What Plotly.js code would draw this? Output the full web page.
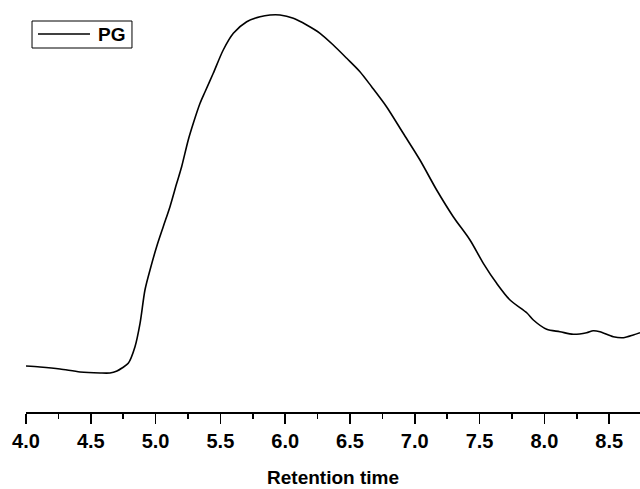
<!DOCTYPE html>
<html>
<head>
<meta charset="utf-8">
<script src="https://cdn.plot.ly/plotly-3.0.1.min.js"></script>
<style>html,body{margin:0;padding:0;background:#fff;}#chart{width:640px;height:489px;}</style>
</head>
<body>
<div id="chart"></div>
<script>
// Retention time (min)
const retentionTime = [4.000, 4.108, 4.262, 4.417, 4.571, 4.648, 4.702, 4.741, 4.789, 4.841, 4.880, 4.918, 4.957, 5.008, 5.059, 5.111, 5.163, 5.201, 5.252, 5.291, 5.343, 5.381, 5.445, 5.522, 5.600, 5.703, 5.806, 5.883, 5.960, 6.063, 6.166, 6.269, 6.371, 6.475, 6.577, 6.667, 6.782, 6.911, 7.040, 7.169, 7.297, 7.426, 7.529, 7.632, 7.735, 7.866, 7.915, 8.018, 8.120, 8.223, 8.326, 8.377, 8.429, 8.532, 8.610, 8.686, 8.738];
// Detector signal (arbitrary units)
const signalPG = [46, 45, 43, 40, 39, 39, 41, 44, 48.7, 65.3, 88.7, 122, 142, 165.3, 185.3, 205.3, 228.7, 245.3, 272, 288.7, 308.7, 320, 338.7, 362, 378.7, 390.3, 395.3, 397, 397, 393.7, 387, 378.7, 367, 353.7, 340.3, 325.3, 305.3, 278.7, 252, 222, 195.3, 172, 148.7, 128.7, 112, 99, 92, 82.7, 80.3, 77.7, 79.3, 81.3, 80.3, 75.3, 74.3, 77, 79.3];
const seriesName = 'PG';
const xTickVals = [4.0, 4.5, 5.0, 5.5, 6.0, 6.5, 7.0, 7.5, 8.0, 8.5];
const xTickText = ['4.0', '4.5', '5.0', '5.5', '6.0', '6.5', '7.0', '7.5', '8.0', '8.5'];
const xTitle = 'Retention time';

const trace = {
  x: retentionTime, y: signalPG, type: 'scatter', mode: 'lines', name: seriesName,
  line: {color: '#000', width: 1.6, shape: 'spline', smoothing: 0.8},
  showlegend: false, hoverinfo: 'skip'
};

const layout = {
  width: 640, height: 489,
  margin: {l: 26, r: 0, t: 12, b: 77},
  paper_bgcolor: '#fff', plot_bgcolor: '#fff',
  font: {family: 'Liberation Sans, Arial, sans-serif', color: '#000'},
  xaxis: {
    range: [4.0, 8.738], showgrid: false, zeroline: false,
    showline: true, linecolor: '#000', linewidth: 2,
    ticks: 'outside', ticklen: 10, tickwidth: 1.6, tickcolor: '#000',
    tickmode: 'array', tickvals: xTickVals, ticktext: xTickText,
    tickfont: {size: 20, family: 'Liberation Sans, Arial, sans-serif', weight: 'bold'},
    minor: {dtick: 0.25, tick0: 4.0, ticks: 'outside', ticklen: 5, tickwidth: 1.6, tickcolor: '#000', showgrid: false},
    title: {text: '<b>' + xTitle + '</b>', font: {size: 19}, standoff: 20}
  },
  yaxis: {range: [0, 400], visible: false, showgrid: false, zeroline: false},
  shapes: [
    {type: 'rect', xref: 'paper', yref: 'paper', x0: 0.0098, x1: 0.1726, y0: 0.91, y1: 0.9775,
     line: {color: '#000', width: 1}, fillcolor: '#fff', layer: 'above'},
    {type: 'line', xref: 'paper', yref: 'paper', x0: 0.0195, x1: 0.1042, y0: 0.945, y1: 0.945,
     line: {color: '#000', width: 1.6}, layer: 'above'}
  ],
  annotations: [
    {xref: 'paper', yref: 'paper', x: 0.1140, y: 0.945, xanchor: 'left', yanchor: 'middle',
     text: '<b>' + seriesName + '</b>', showarrow: false, font: {size: 19, color: '#000'}}
  ]
};

Plotly.newPlot('chart', [trace], layout, {displayModeBar: false, staticPlot: true});
</script>
</body>
</html>
